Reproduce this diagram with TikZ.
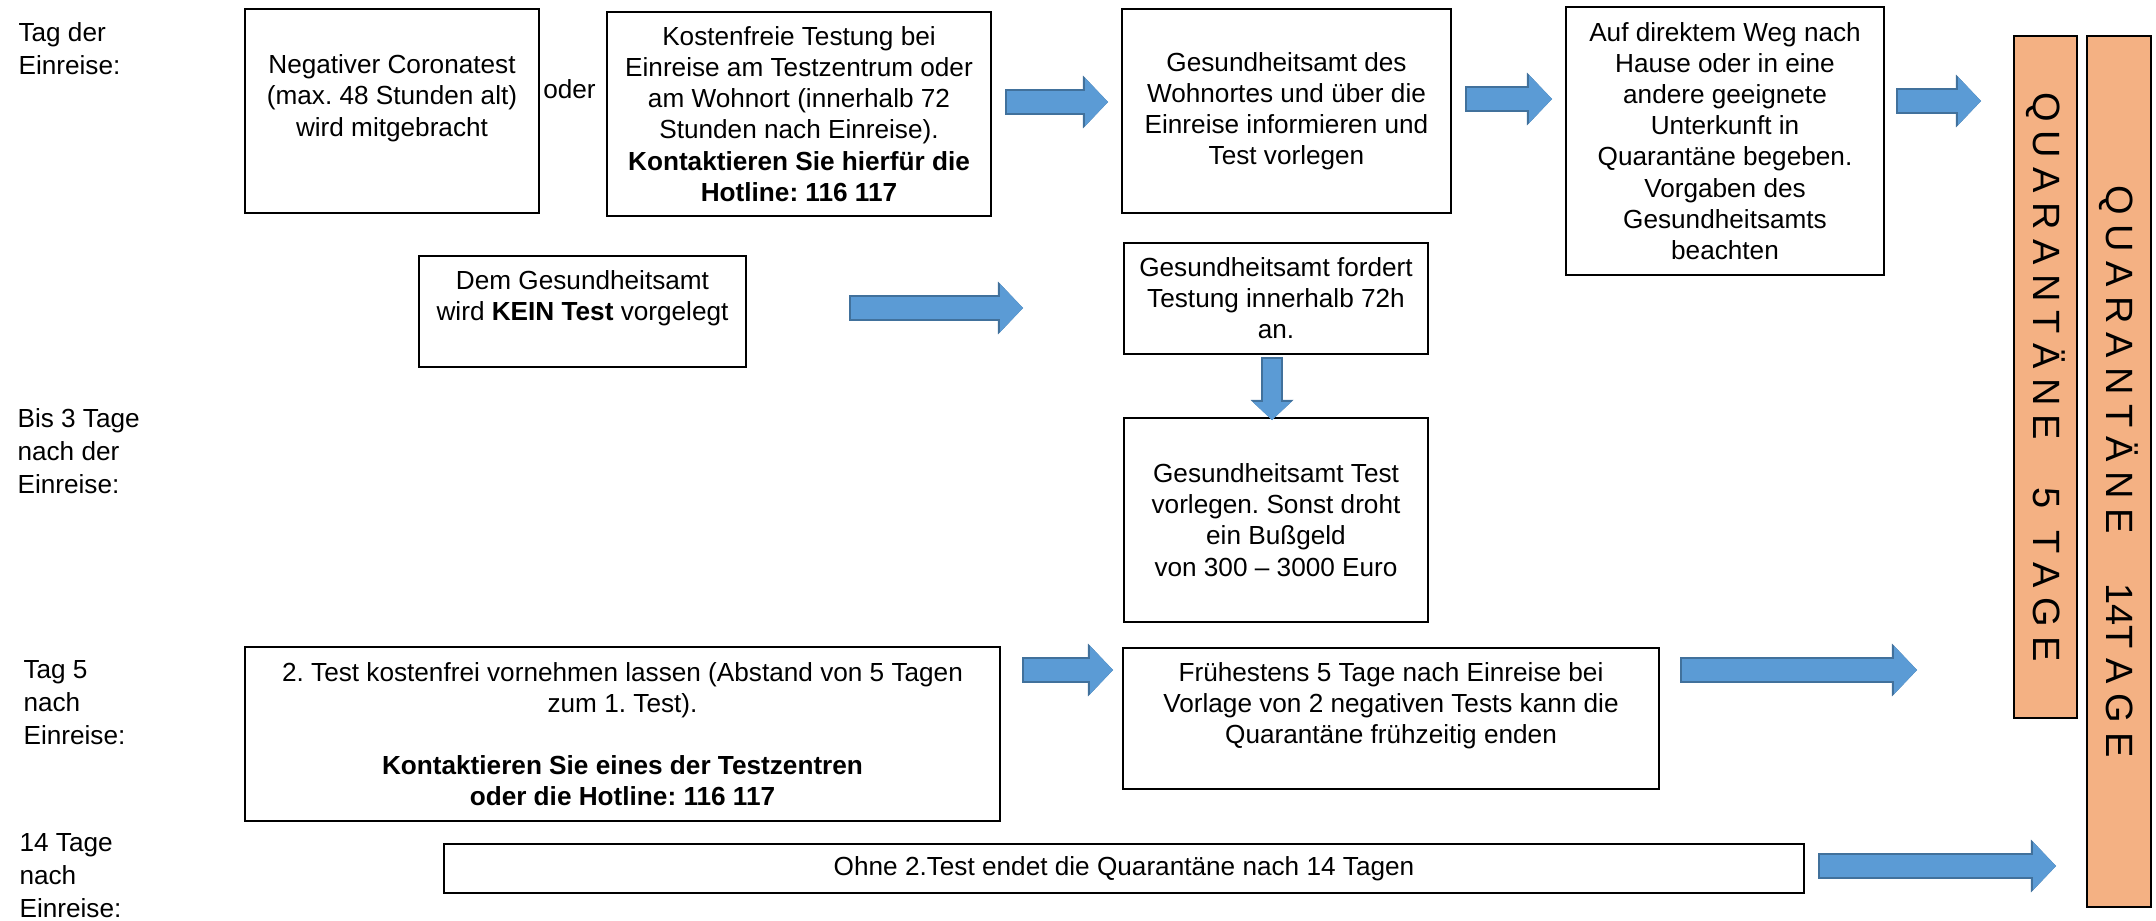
\documentclass[tikz,border=0pt]{standalone}
\usepackage{fontspec}
\setmainfont{Liberation Sans}
\usetikzlibrary{arrows.meta}
\frenchspacing
\definecolor{arrowblue}{HTML}{5B9BD5}
\definecolor{arrowrim}{HTML}{41719C}
\definecolor{barorange}{HTML}{F4B183}
\newcommand{\blockarrow}[4]{%
  \pgfmathsetlengthmacro{\rimw}{#1+1.2pt}%
  \pgfmathsetlengthmacro{\rimh}{#2+1.8pt}%
  \pgfmathsetlengthmacro{\riml}{#1+0.8pt}%
  \draw[arrowrim,line width=\rimw,shorten <=-0.6pt,-{Triangle[length=\riml,width=\rimh,line width=0pt]}] (#3) -- (#4);
  \draw[arrowblue,line width=#1,-{Triangle[length=#1,width=#2,line width=0pt]}] (#3) -- (#4);}
\newcommand{\spreadout}[1]{{\spaceskip=3.4pt\relax #1}}

\begin{document}
\begin{tikzpicture}[x=0.363pt,y=-0.363pt,
  every node/.style={font=\fontsize{9.5}{11.3}\selectfont},
  box/.style={draw,line width=0.7pt,align=center,inner sep=0pt},
  daylabel/.style={anchor=north west,align=left,inner sep=0pt,font=\fontsize{9.5}{12}\selectfont},
  bar/.style={draw,line width=0.6pt,fill=barorange,inner sep=0pt,rotate=-90,
    font=\fontsize{13.8}{16}\selectfont}]
\useasboundingbox (0,0) rectangle (2156,921);

\node[daylabel] (day0) at (18,22) {Tag der\\Einreise:};
\node[daylabel] (day3) at (17,408) {Bis 3 Tage\\nach der\\Einreise:};
\node[daylabel] (day5) at (23,660) {Tag 5\\nach\\Einreise:};
\node[daylabel] (day14) at (19,833) {14 Tage\\nach\\Einreise:};

\node[box,minimum width=106.7pt,minimum height=74.1pt] (negtest) at (392,111)
  {Negativer Coronatest\\(max. 48 Stunden alt)\\wird mitgebracht\\~};
\node[anchor=base,inner sep=0pt] (oder) at (569.5,98) {oder};
\node[box,minimum width=139.4pt,minimum height=74.1pt] (freetest) at (799,114)
  {Kostenfreie Testung bei\\Einreise am Testzentrum oder\\am Wohnort (innerhalb 72\\Stunden nach Einreise).\\
   \textbf{Kontaktieren Sie hierfür die}\\\textbf{Hotline: 116 117}};
\node[box,minimum width=119.4pt,minimum height=74.1pt] (inform) at (1286.5,111)
  {Gesundheitsamt des\\Wohnortes und über die\\Einreise informieren und\\Test vorlegen};
\node[box,minimum width=115.4pt,minimum height=97.3pt] (home) at (1725,141)
  {Auf direktem Weg nach\\Hause oder in eine\\andere geeignete\\Unterkunft in\\Quarantäne begeben.\\Vorgaben des\\Gesundheitsamts\\beachten};

\node[box,minimum width=118.7pt,minimum height=40.3pt] (notest) at (582.5,311.5)
  {Dem Gesundheitsamt\\wird \textbf{KEIN Test} vorgelegt\\~};
\node[box,minimum width=110.4pt,minimum height=40.3pt] (demand) at (1276,298.5)
  {Gesundheitsamt fordert\\Testung innerhalb 72h\\an.};
\node[box,minimum width=110.4pt,minimum height=74.1pt] (fine) at (1276,520)
  {Gesundheitsamt Test\\vorlegen. Sonst droht\\ein Bußgeld\\von 300 – 3000 Euro};

\node[box,minimum width=274.1pt,minimum height=63.2pt] (secondtest) at (622.5,734)
  {2. Test kostenfrei vornehmen lassen (Abstand von 5 Tagen\\zum 1. Test).\\[11.3pt]
   \textbf{Kontaktieren Sie eines der Testzentren}\\\textbf{oder die Hotline: 116 117}};
\node[box,minimum width=194.6pt,minimum height=51.2pt] (early) at (1391,718.5)
  {Frühestens 5 Tage nach Einreise bei\\Vorlage von 2 negativen Tests kann die\\Quarantäne frühzeitig enden\\~};
\node[box,minimum width=493.7pt,minimum height=17.8pt] (notest14) at (1124,868.5)
  {Ohne 2.Test endet die Quarantäne nach 14 Tagen};

\node[bar,minimum width=247.6pt,minimum height=22.9pt] (q5) at (2045.5,377)
  {\spreadout{Q U A R A N T Ä N E}\hspace{17pt}5\hspace{8pt}\spreadout{T A G E}};
\node[bar,minimum width=316.2pt,minimum height=23.2pt] (q14) at (2119,471.5)
  {\spreadout{Q U A R A N T Ä N E}\hspace{18pt}14\spreadout{T A G E}};

\coordinate (a1s) at (1007,102); \coordinate (a1e) at (1108,102);
\coordinate (a2s) at (1467,99);  \coordinate (a2e) at (1552,99);
\coordinate (a3s) at (1898,101); \coordinate (a3e) at (1981,101);
\coordinate (a4s) at (851,308);  \coordinate (a4e) at (1023,308);
\coordinate (a5s) at (1024,670); \coordinate (a5e) at (1113,670);
\coordinate (a6s) at (1682,670); \coordinate (a6e) at (1917,670);
\coordinate (a7s) at (1820,866); \coordinate (a7e) at (2056,866);
\coordinate (ads) at (1272,359); \coordinate (ade) at (1272,420);
\blockarrow{8.3pt}{17.4pt}{a1s}{a1e}
\blockarrow{8.3pt}{17.4pt}{a2s}{a2e}
\blockarrow{8.3pt}{17.4pt}{a3s}{a3e}
\blockarrow{8.3pt}{17.4pt}{a4s}{a4e}
\blockarrow{8.3pt}{17.4pt}{a5s}{a5e}
\blockarrow{8.3pt}{17.4pt}{a6s}{a6e}
\blockarrow{8.3pt}{17.4pt}{a7s}{a7e}
\blockarrow{6.5pt}{13.8pt}{ads}{ade}
\end{tikzpicture}
\end{document}
